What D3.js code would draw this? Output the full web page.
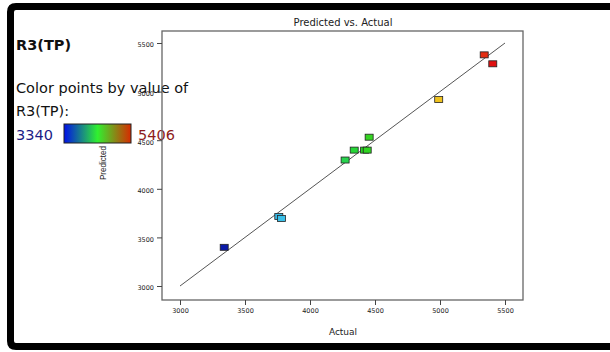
<!DOCTYPE html>
<html>
<head>
<meta charset="utf-8">
<script src="https://cdn.jsdelivr.net/npm/d3@7"></script>
<style>
  html, body { margin: 0; background: #fff; overflow: hidden; }
  svg { display: block; }
</style>
</head>
<body>
<div id="chart"></div>
<script>
// values
const actual    = [3340, 3760, 3780, 4270, 4340, 4420, 4440, 4455, 4990, 5340, 5406];
const predicted = [3398, 3715, 3695, 4296, 4398, 4398, 4398, 4531, 4918, 5378, 5286];
const xTicks = [3000, 3500, 4000, 4500, 5000, 5500];
const yTicks = [3000, 3500, 4000, 4500, 5000, 5500];
const colorMin = 3340, colorMax = 5406;

const width = 610, height = 352;

const svg = d3.select('#chart')
  .append('svg')
  .attr('width', width)
  .attr('height', height)
  .style('overflow', 'hidden');

// black outer frame: left, top and bottom only (right side runs off the picture)
const fr = d3.path();
fr.moveTo(width + 20, 6.5);
fr.lineTo(16, 6.5);
fr.quadraticCurveTo(10.5, 6.5, 10.5, 12);
fr.lineTo(10.5, 341);
fr.quadraticCurveTo(10.5, 346.5, 16, 346.5);
fr.lineTo(width + 20, 346.5);
svg.append('path')
  .attr('d', fr.toString())
  .attr('fill', 'none')
  .attr('stroke', '#000')
  .attr('stroke-width', 7);

const plot = { left: 162, top: 31, right: 523, bottom: 300 };

const x = d3.scaleLinear().domain([3000, 5500]).range([180, 505]);
const y = d3.scaleLinear().domain([3000, 5500]).range([286, 43]);

// point colours (rainbow by actual value) and legend bar colours
const pointColor = d3.scaleLinear()
  .domain([3340, 3800, 4400, 5000, 5406])
  .range(['#0a1aa8', '#3cc8ec', '#22d622', '#f2c21e', '#e01010']);
const barColor = d3.scaleLinear()
  .domain([0, 0.5, 1])
  .range(['#0010e8', '#30f030', '#d82a00']);

// left legend text
const txt = svg.append('g').attr('font-family', "'DejaVu Sans', sans-serif").attr('fill', '#111');
txt.append('text').attr('x', 16).attr('y', 50)
  .attr('font-size', 14.5).attr('font-weight', 'bold').text('R3(TP)');
txt.append('text').attr('x', 16).attr('y', 93)
  .attr('font-size', 14.5).text('Color points by value of');
txt.append('text').attr('x', 16).attr('y', 116)
  .attr('font-size', 14.5).text('R3(TP):');
txt.append('text').attr('x', 16).attr('y', 140)
  .attr('font-size', 14.5).attr('fill', '#1c1c86').text(colorMin);
txt.append('text').attr('x', 138).attr('y', 140)
  .attr('font-size', 14.5).attr('fill', '#8e1c1c').text(colorMax);

const defs = svg.append('defs');
const grad = defs.append('linearGradient').attr('id', 'cbar');
d3.range(0, 1.01, 0.1).forEach(t => {
  grad.append('stop').attr('offset', t).attr('stop-color', barColor(t));
});
svg.append('rect')
  .attr('x', 64).attr('y', 124)
  .attr('width', 67).attr('height', 19)
  .attr('fill', 'url(#cbar)')
  .attr('stroke', '#222').attr('stroke-width', 1);

// plot frame
svg.append('rect')
  .attr('x', plot.left).attr('y', plot.top)
  .attr('width', plot.right - plot.left).attr('height', plot.bottom - plot.top)
  .attr('fill', 'none')
  .attr('stroke', '#666').attr('stroke-width', 1.3);

// axes
const xAxis = d3.axisBottom(x).tickValues(xTicks).tickFormat(d3.format('d')).tickSize(5).tickPadding(3);
const gx = svg.append('g').attr('transform', `translate(0,${plot.bottom})`).call(xAxis);
gx.select('.domain').remove();

const yAxis = d3.axisLeft(y).tickValues(yTicks).tickFormat(d3.format('d')).tickSize(5).tickPadding(3);
const gy = svg.append('g').attr('transform', `translate(${plot.left},0)`).call(yAxis);
gy.select('.domain').remove();

[gx, gy].forEach(g => {
  g.selectAll('line').attr('stroke', '#444');
  g.selectAll('text')
    .attr('font-family', "'DejaVu Sans', sans-serif")
    .attr('font-size', 6.5)
    .attr('fill', '#222');
});
gy.selectAll('text').attr('dy', '0.6em');

// titles
svg.append('text')
  .attr('x', 343).attr('y', 26)
  .attr('text-anchor', 'middle')
  .attr('font-family', "'DejaVu Sans', sans-serif")
  .attr('font-size', 10)
  .attr('fill', '#222')
  .text('Predicted vs. Actual');

svg.append('text')
  .attr('x', 343).attr('y', 335)
  .attr('text-anchor', 'middle')
  .attr('font-family', "'DejaVu Sans', sans-serif")
  .attr('font-size', 9)
  .attr('fill', '#222')
  .text('Actual');

svg.append('text')
  .attr('transform', 'translate(106,163) rotate(-90)')
  .attr('text-anchor', 'middle')
  .attr('font-family', "'Liberation Sans', sans-serif")
  .attr('font-size', 9.5)
  .attr('textLength', 34)
  .attr('lengthAdjust', 'spacingAndGlyphs')
  .attr('fill', '#222')
  .text('Predicted');

// reference line y = x
svg.append('line')
  .attr('x1', x(3000)).attr('y1', y(3000))
  .attr('x2', x(5500)).attr('y2', y(5500))
  .attr('stroke', '#555').attr('stroke-width', 1);

// points
const pts = actual.map((a, i) => ({ a, p: predicted[i] }));
svg.append('g').selectAll('rect')
  .data(pts)
  .enter()
  .append('rect')
  .attr('x', d => x(d.a) - 4)
  .attr('y', d => y(d.p) - 3)
  .attr('width', 8)
  .attr('height', 6)
  .attr('fill', d => pointColor(d.a))
  .attr('stroke', '#222')
  .attr('stroke-width', 0.8);
</script>
</body>
</html>
